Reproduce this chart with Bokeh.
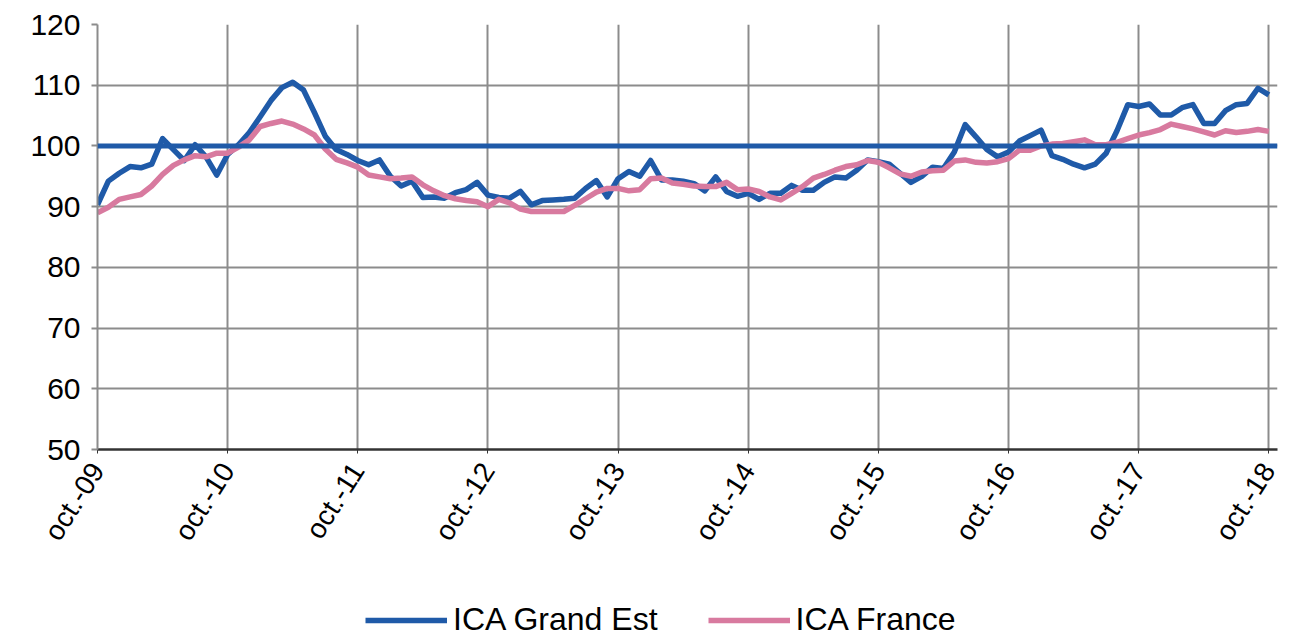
from bokeh.plotting import figure
from bokeh.layouts import column
from bokeh.models import FixedTicker, Span, Legend, LegendItem, Range1d
from bokeh.embed import file_html
from bokeh.resources import INLINE

tick_labels = ["oct.-09", "oct.-10", "oct.-11", "oct.-12", "oct.-13",
               "oct.-14", "oct.-15", "oct.-16", "oct.-17", "oct.-18"]

ica_grand_est = [
    90.3, 94.2, 95.5, 96.6, 96.4, 97.0, 101.2, 99.4, 97.6, 100.2,
    98.2, 95.2, 98.6, 100.2, 102.2, 104.8, 107.5, 109.6, 110.5, 109.2,
    105.5, 101.6, 99.4, 98.6, 97.6, 96.9, 97.7, 95.0, 93.4, 94.2,
    91.5, 91.6, 91.4, 92.3, 92.8, 94.0, 91.9, 91.5, 91.4, 92.5,
    90.3, 91.0, 91.1, 91.2, 91.4, 93.0, 94.3, 91.6, 94.6, 95.8,
    95.0, 97.6, 94.4, 94.4, 94.2, 93.8, 92.6, 94.9, 92.5, 91.7,
    92.2, 91.2, 92.2, 92.2, 93.5, 92.7, 92.7, 94.0, 94.9, 94.7,
    96.0, 97.7, 97.4, 97.0, 95.5, 94.0, 95.0, 96.5, 96.3, 99.0,
    103.5, 101.5, 99.4, 98.2, 99.0, 100.8, 101.7, 102.6, 98.4, 97.8,
    97.0, 96.4, 97.0, 98.8, 102.5, 106.8, 106.5, 106.9, 105.1, 105.1,
    106.3, 106.8, 103.7, 103.7, 105.8, 106.8, 107.0, 109.5, 108.4,
]

ica_france = [
    89.0, 89.9, 91.2, 91.6, 92.0, 93.4, 95.3, 96.8, 97.7, 98.4,
    98.2, 98.8, 98.8, 99.8, 101.0, 103.2, 103.7, 104.1, 103.6, 102.8,
    101.8, 99.5, 97.8, 97.2, 96.5, 95.2, 94.9, 94.6, 94.7, 94.9,
    93.6, 92.6, 91.8, 91.3, 91.0, 90.8, 90.0, 91.2, 90.6, 89.6,
    89.2, 89.2, 89.2, 89.2, 90.2, 91.3, 92.4, 93.0, 93.0, 92.6,
    92.8, 94.6, 94.7, 93.9, 93.7, 93.4, 93.3, 93.3, 94.0, 92.8,
    92.9, 92.5, 91.6, 91.1, 92.2, 93.3, 94.7, 95.3, 96.0, 96.6,
    96.9, 97.6, 97.3, 96.4, 95.4, 95.0, 95.7, 95.9, 96.0, 97.5,
    97.7, 97.3, 97.2, 97.4, 97.9, 99.3, 99.3, 100.0, 100.3, 100.4,
    100.7, 101.0, 100.2, 100.2, 100.6, 101.2, 101.8, 102.2, 102.7, 103.6,
    103.2, 102.8, 102.3, 101.8, 102.5, 102.2, 102.4, 102.7, 102.4,
]

series_names = ["ICA Grand Est", "ICA France"]
base_value = 100
months = list(range(len(ica_grand_est)))
tick_positions = [12 * i for i in range(len(tick_labels))]

BLUE = "#1f5aa8"
PINK = "#d87a9f"
GRID = "#8c8c8c"
FONT = "Liberation Sans"
LW = 5.5

p = figure(width=1281, height=600, output_backend="svg", toolbar_location=None,
           x_range=Range1d(0, 108.8), y_range=Range1d(50, 120),
           min_border_left=97, min_border_top=24, min_border_right=4,
           min_border_bottom=151)
p.outline_line_color = None
p.background_fill_color = "white"

p.line(months, ica_grand_est, line_color=BLUE, line_width=LW, line_join="round")
p.line(months, ica_france, line_color=PINK, line_width=LW, line_join="round")

p.add_layout(Span(location=base_value, dimension="width", line_color=BLUE, line_width=5))

p.xaxis.ticker = FixedTicker(ticks=tick_positions)
p.xaxis.major_label_overrides = {t: l for t, l in zip(tick_positions, tick_labels)}
p.xaxis.major_label_orientation = 1.0
p.xaxis.major_label_text_font = FONT
p.xaxis.major_label_text_font_size = "28px"
p.xaxis.major_label_text_color = "black"
p.xaxis.major_label_standoff = 12
p.xaxis.axis_line_color = "#333333"
p.xaxis.axis_line_width = 2.5
p.xaxis.major_tick_line_color = "#333333"
p.xaxis.major_tick_out = 4
p.xaxis.major_tick_in = 0
p.xaxis.minor_tick_line_color = None

p.yaxis.ticker = FixedTicker(ticks=list(range(50, 121, 10)))
p.yaxis.major_label_text_font = FONT
p.yaxis.major_label_text_font_size = "30px"
p.yaxis.major_label_text_color = "black"
p.yaxis.major_label_standoff = 11
p.yaxis.axis_line_color = GRID
p.yaxis.axis_line_width = 2
p.yaxis.major_tick_line_color = GRID
p.yaxis.major_tick_line_width = 2
p.yaxis.major_tick_out = 6
p.yaxis.major_tick_in = 0
p.yaxis.minor_tick_line_color = None

p.xgrid.ticker = FixedTicker(ticks=tick_positions)
p.ygrid.ticker = FixedTicker(ticks=list(range(50, 121, 10)))
for g in (p.xgrid, p.ygrid):
    g.grid_line_color = GRID
    g.grid_line_width = 2

# legend strip below the chart (series drawn out of view; only the key shows)
lg = figure(width=1281, height=38, output_backend="svg", toolbar_location=None,
            x_axis_type=None, y_axis_type=None,
            x_range=Range1d(0, 1), y_range=Range1d(0, 1),
            min_border_left=0, min_border_right=0, min_border_top=0, min_border_bottom=0)
lg.grid.visible = False
lg.outline_line_color = None
k_ge = lg.line(months, ica_grand_est, line_color=BLUE, line_width=LW)
k_fr = lg.line(months, ica_france, line_color=PINK, line_width=LW)
legend = Legend(items=[LegendItem(label=series_names[0], renderers=[k_ge]),
                       LegendItem(label=series_names[1], renderers=[k_fr])],
                orientation="horizontal", location=(268, 0),
                label_text_font=FONT, label_text_font_size="32px",
                label_text_color="black",
                glyph_width=82, glyph_height=20, label_height=20,
                label_standoff=6, spacing=50,
                padding=0, margin=0,
                border_line_color=None, background_fill_alpha=0)
lg.add_layout(legend)

layout = column(p, lg, spacing=0)
open("out.html", "w").write(file_html(layout, INLINE))
